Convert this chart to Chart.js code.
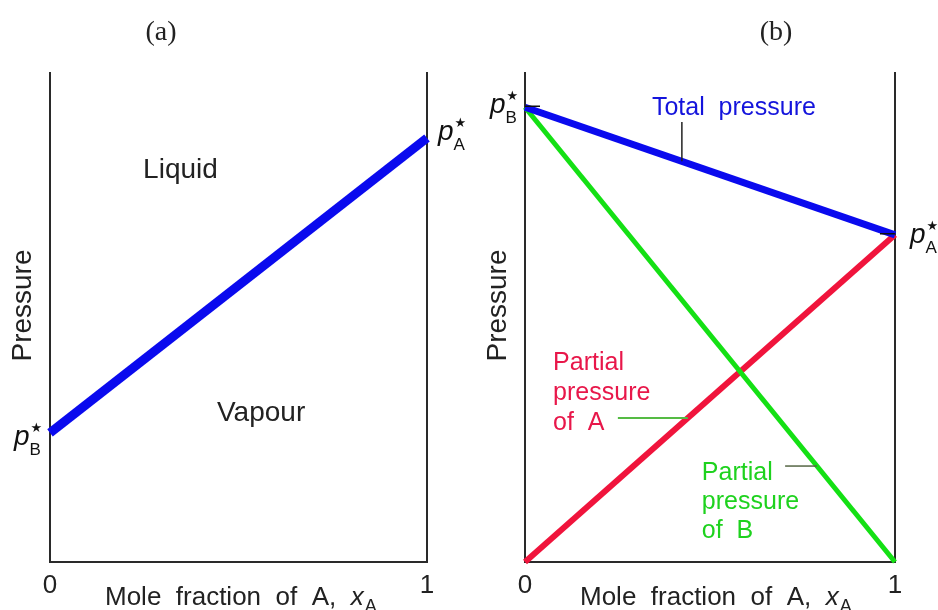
<!DOCTYPE html>
<html>
<head>
<meta charset="utf-8">
<script src="https://cdn.jsdelivr.net/npm/chart.js@4.4.1/dist/chart.umd.min.js"></script>
<style>
  body { margin: 0; background: #fff; }
  #wrap { position: relative; width: 938px; height: 610px; }
  canvas { position: absolute; top: 0; }
</style>
</head>
<body>
<div id="wrap">
  <canvas id="chartA" width="469" height="610" style="left:0"></canvas>
  <canvas id="chartB" width="469" height="610" style="left:469px"></canvas>
</div>
<script>
// mole fraction of A at the two ends of each line
const molFrac = [0, 1];
const xTickLabels = ['0', '1'];

// (a) liquid / vapour boundary, from p_B* to p_A*
const boundaryA = [0.264, 0.867];

// (b) Raoult's law lines
const totalP = [0.930, 0.669];
const partialPA = [0, 0.669];
const partialPB = [0.930, 0];

const fam = '"Liberation Sans", Arial, sans-serif';
const axisCol = '#2a2a2a';

const pts = (ys) => molFrac.map((x, i) => ({ x: x, y: ys[i] }));
// value of a straight line at mole fraction x
const lineAt = (ys, x) => ys[0] + (ys[1] - ys[0]) * x;

const makeScales = (leftW, rightW) => ({
  x: {
    type: 'linear', min: 0, max: 1,
    afterFit: (s) => { s.height = 48; },
    grid: { display: false, drawTicks: false },
    border: { display: true, color: axisCol, width: 2 },
    ticks: {
      stepSize: 1, padding: 8, autoSkip: false, maxRotation: 0,
      color: '#222', font: { size: 26, family: fam },
      callback: (v) => xTickLabels[v]
    }
  },
  y: {
    min: 0, max: 1, position: 'left',
    afterFit: (s) => { s.width = leftW; },
    grid: { display: false },
    border: { display: true, color: axisCol, width: 2 },
    ticks: { display: false }
  },
  yR: {
    min: 0, max: 1, position: 'right',
    afterFit: (s) => { s.width = rightW; },
    grid: { display: false },
    border: { display: true, color: axisCol, width: 2 },
    ticks: { display: false }
  }
});

const baseOptions = (leftW, rightW) => ({
  responsive: false,
  animation: false,
  devicePixelRatio: 1,
  layout: { padding: { top: 73, left: 0, right: 0, bottom: 0 } },
  plugins: { legend: { display: false }, tooltip: { enabled: false } },
  scales: makeScales(leftW, rightW)
});

const lineSet = (ys, color, width) => ({
  data: pts(ys),
  showLine: true,
  borderColor: color,
  borderWidth: width,
  borderCapStyle: 'butt',
  pointRadius: 0,
  clip: false
});

// italic p with star superscript and subscript letter
function pStar(ctx, x, base, sub) {
  ctx.fillStyle = '#111';
  ctx.font = 'italic 28px ' + fam;
  ctx.fillText('p', x, base);
  const w = ctx.measureText('p').width;
  ctx.font = '17px ' + fam;
  ctx.fillText(sub, x + w, base + 10);
  ctx.font = '13px "DejaVu Sans"';
  ctx.fillText('\u2605', x + w + 1, base - 13);
}

function axisTitles(ctx, area, letter, letterX) {
  ctx.fillStyle = '#222';
  ctx.font = '28px "Liberation Serif", "Times New Roman", serif';
  ctx.textAlign = 'center';
  ctx.fillText(letter, letterX, 40);
  ctx.textAlign = 'left';

  ctx.font = '26px ' + fam;
  const xt = 'Mole  fraction  of  A,  ';
  const x0 = area.left + 55;
  ctx.fillText(xt, x0, 605);
  const w = ctx.measureText(xt).width;
  ctx.font = 'italic 26px ' + fam;
  ctx.fillText('x', x0 + w, 605);
  const wx = ctx.measureText('x').width;
  ctx.font = '18px ' + fam;
  ctx.fillText('A', x0 + w + wx + 1, 612);

  ctx.save();
  ctx.translate(area.left - 29, (area.top + area.bottom) / 2 - 12);
  ctx.rotate(-Math.PI / 2);
  ctx.textAlign = 'center';
  ctx.font = '28px ' + fam;
  ctx.fillText('Pressure', 0, 10);
  ctx.restore();
}

const labelsA = {
  id: 'labelsA',
  afterDraw(chart) {
    const ctx = chart.ctx, xs = chart.scales.x, ys = chart.scales.y, area = chart.chartArea;
    ctx.save();
    axisTitles(ctx, area, '(a)', 161);
    ctx.fillStyle = '#222';
    ctx.font = '28px ' + fam;
    ctx.fillText('Liquid', xs.getPixelForValue(0.247), ys.getPixelForValue(0.785));
    ctx.fillText('Vapour', xs.getPixelForValue(0.443), ys.getPixelForValue(0.288));
    pStar(ctx, area.right + 11, ys.getPixelForValue(boundaryA[1]) + 2, 'A');
    pStar(ctx, area.left - 36, ys.getPixelForValue(boundaryA[0]) + 12, 'B');
    ctx.restore();
  }
};

const labelsB = {
  id: 'labelsB',
  afterDraw(chart) {
    const ctx = chart.ctx, xs = chart.scales.x, ys = chart.scales.y, area = chart.chartArea;
    const px = (v) => xs.getPixelForValue(v), py = (v) => ys.getPixelForValue(v);
    ctx.save();
    axisTitles(ctx, area, '(b)', 307);

    // little tick marks at the pure-component pressures
    ctx.strokeStyle = '#111';
    ctx.lineWidth = 1.5;
    ctx.beginPath();
    ctx.moveTo(area.left, py(totalP[0]) - 1); ctx.lineTo(area.left + 15, py(totalP[0]) - 1);
    ctx.moveTo(area.right - 15, py(totalP[1]) - 1); ctx.lineTo(area.right, py(totalP[1]) - 1);
    ctx.stroke();

    pStar(ctx, area.left - 35, py(totalP[0]) + 6, 'B');
    pStar(ctx, area.right + 15, py(totalP[1]) + 8, 'A');

    ctx.font = '25px ' + fam;
    // total pressure label + leader
    ctx.fillStyle = '#1414dc';
    ctx.fillText('Total  pressure', px(0.343), py(0.914));
    ctx.strokeStyle = '#222';
    ctx.lineWidth = 1.5;
    ctx.beginPath();
    ctx.moveTo(px(0.424), py(0.90));
    ctx.lineTo(px(0.424), py(lineAt(totalP, 0.424)));
    ctx.stroke();

    // partial pressure of A
    ctx.fillStyle = '#e8174a';
    ['Partial', 'pressure', 'of  A'].forEach((t, i) => ctx.fillText(t, px(0.076), py(0.393) + i * 30));
    ctx.strokeStyle = '#55bb44';
    ctx.lineWidth = 2;
    ctx.beginPath();
    ctx.moveTo(px(0.251), py(lineAt(partialPA, 0.44)));
    ctx.lineTo(px(0.44), py(lineAt(partialPA, 0.44)));
    ctx.stroke();

    // partial pressure of B
    ctx.fillStyle = '#1ed21e';
    ['Partial', 'pressure', 'of  B'].forEach((t, i) => ctx.fillText(t, px(0.478), py(0.168) + i * 29));
    ctx.strokeStyle = '#556644';
    ctx.lineWidth = 1.5;
    ctx.beginPath();
    ctx.moveTo(px(0.703), py(lineAt(partialPB, 0.789)));
    ctx.lineTo(px(0.789), py(lineAt(partialPB, 0.789)));
    ctx.stroke();
    ctx.restore();
  }
};

new Chart(document.getElementById('chartA'), {
  type: 'scatter',
  data: { datasets: [lineSet(boundaryA, '#0a0aee', 9)] },
  options: baseOptions(50, 42),
  plugins: [labelsA]
});

new Chart(document.getElementById('chartB'), {
  type: 'scatter',
  data: {
    datasets: [
      lineSet(totalP, '#0a0aee', 7),
      lineSet(partialPB, '#14e014', 5),
      lineSet(partialPA, '#f0143c', 6)
    ]
  },
  options: baseOptions(56, 43),
  plugins: [labelsB]
});
</script>
</body>
</html>
